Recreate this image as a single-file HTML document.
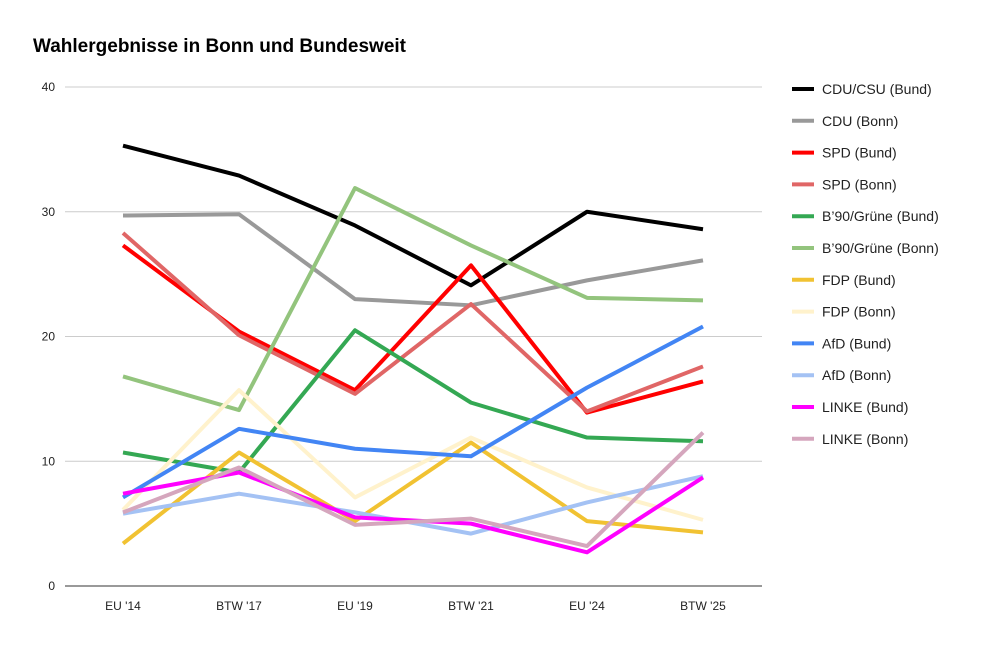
<!DOCTYPE html>
<html><head><meta charset="utf-8"><style>
body{margin:0;background:#fff;font-family:"Liberation Sans",Arial,sans-serif}
</style></head><body>
<svg id="chart" width="1000" height="643" xmlns="http://www.w3.org/2000/svg" font-family="Liberation Sans, Arial, sans-serif">
<rect width="1000" height="643" fill="#fff"/>
<text x="33" y="52" font-size="19" font-weight="bold" fill="#000">Wahlergebnisse in Bonn und Bundesweit</text>
<g id="grid"></g><g id="lines"></g><g id="legend"></g>
</svg>
<script>
const categories=["EU '14","BTW '17","EU '19","BTW '21","EU '24","BTW '25"];
const yTicks=[0,10,20,30,40];
const seriesNames=["CDU/CSU (Bund)","CDU (Bonn)","SPD (Bund)","SPD (Bonn)","B’90/Grüne (Bund)","B’90/Grüne (Bonn)","FDP (Bund)","FDP (Bonn)","AfD (Bund)","AfD (Bonn)","LINKE (Bund)","LINKE (Bonn)"];
const seriesColors=["#000000","#999999","#ff0000","#e06666","#34a853","#93c47d","#f1c232","#fff2cc","#4285f4","#a4c2f4","#ff00ff","#d5a6bd"];
const cduBund=[35.3,32.9,28.9,24.1,30.0,28.6];
const cduBonn=[29.7,29.8,23.0,22.5,24.5,26.1];
const spdBund=[27.3,20.4,15.7,25.7,13.9,16.4];
const spdBonn=[28.3,20.1,15.4,22.6,14.0,17.6];
const grueneBund=[10.7,9.1,20.5,14.7,11.9,11.6];
const grueneBonn=[16.8,14.1,31.9,27.3,23.1,22.9];
const fdpBund=[3.4,10.7,5.2,11.5,5.2,4.3];
const fdpBonn=[6.1,15.7,7.1,11.9,7.9,5.3];
const afdBund=[7.1,12.6,11.0,10.4,15.9,20.8];
const afdBonn=[5.8,7.4,5.9,4.2,6.7,8.8];
const linkeBund=[7.4,9.1,5.5,5.0,2.7,8.7];
const linkeBonn=[5.9,9.5,4.9,5.4,3.2,12.3];
const seriesValues=[cduBund,cduBonn,spdBund,spdBonn,grueneBund,grueneBonn,fdpBund,fdpBonn,afdBund,afdBonn,linkeBund,linkeBonn];

const NS="http://www.w3.org/2000/svg";
const x=i=>123+i*116;
const y=v=>586-v*12.475;
function mk(t,a,p){const e=document.createElementNS(NS,t);for(const k in a)e.setAttribute(k,a[k]);p.appendChild(e);return e;}
const grid=document.getElementById('grid');
yTicks.forEach(t=>{
  const l=mk('line',{x1:65,x2:762,y1:y(t),y2:y(t),stroke:t===0?'#333':'#ccc','stroke-width':1},grid);
  
  
  const tx=mk('text',{x:55,y:y(t)+4,'font-size':12,'text-anchor':'end',fill:'#222'},grid);
  tx.textContent=t;
  
  
});
categories.forEach((c,i)=>{
  const tx=mk('text',{x:x(i),y:610,'font-size':12,'text-anchor':'middle',fill:'#222'},grid);
  tx.textContent=c;
  
  
});
const lines=document.getElementById('lines');
seriesValues.forEach((vals,s)=>{
  const p=mk('polyline',{points:vals.map((v,i)=>x(i)+','+y(v)).join(' '),fill:'none',stroke:seriesColors[s],'stroke-width':4,'stroke-linejoin':'round'},lines);
  
  
});
const lg=document.getElementById('legend');
seriesNames.forEach((n,s)=>{
  const yy=89+s*31.8;
  const l=mk('line',{x1:792,x2:814,y1:yy,y2:yy,stroke:seriesColors[s],'stroke-width':4},lg);
  
  
  const t=mk('text',{x:822,y:yy+5,'font-size':14,fill:'#222'},lg);
  t.textContent=n;
  
  
});
</script>
</body></html>
